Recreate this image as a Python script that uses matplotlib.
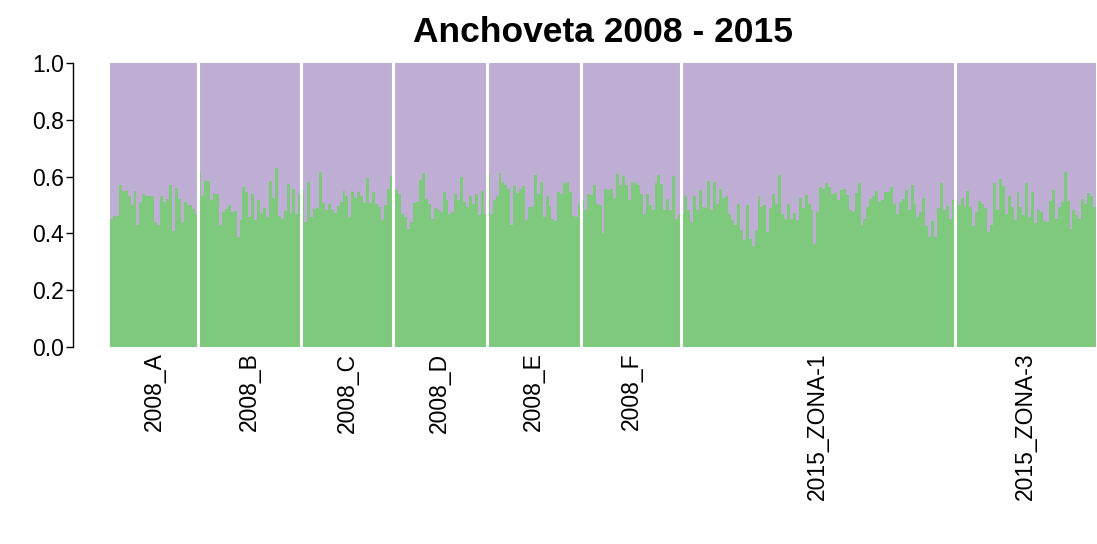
import numpy as np
import matplotlib
matplotlib.use("Agg")
import matplotlib.pyplot as plt

plt.rcParams['font.family'] = ['Liberation Sans', 'DejaVu Sans']

# membership in cluster 1 (green) per individual; cluster 2 (purple) is the rest
pop_labels = ['2008_A', '2008_B', '2008_C', '2008_D', '2008_E', '2008_F',
              '2015_ZONA-1', '2015_ZONA-3']

q_2008_A = [0.45, 0.46, 0.46, 0.57, 0.55, 0.55, 0.53, 0.50, 0.55, 0.43,
            0.51, 0.54, 0.53, 0.53, 0.53, 0.44, 0.43, 0.53, 0.51, 0.52,
            0.57, 0.41, 0.56, 0.52, 0.44, 0.51, 0.50, 0.50, 0.485, 0.47]
q_2008_B = [0.615, 0.53, 0.585, 0.585, 0.517, 0.537, 0.54, 0.43, 0.476, 0.485,
            0.50, 0.476, 0.48, 0.388, 0.447, 0.562, 0.546, 0.458, 0.54, 0.447,
            0.517, 0.473, 0.49, 0.458, 0.584, 0.523, 0.632, 0.46, 0.452, 0.48,
            0.575, 0.473, 0.558, 0.47, 0.54]
q_2008_C = [0.552, 0.44, 0.58, 0.458, 0.485, 0.488, 0.615, 0.508, 0.482, 0.505,
            0.482, 0.473, 0.496, 0.511, 0.549, 0.531, 0.458, 0.546, 0.526, 0.546,
            0.53, 0.508, 0.594, 0.508, 0.546, 0.505, 0.494, 0.447, 0.5, 0.555,
            0.602]
q_2008_D = [0.535, 0.552, 0.54, 0.47, 0.458, 0.417, 0.44, 0.508, 0.511, 0.588,
            0.613, 0.52, 0.505, 0.45, 0.488, 0.484, 0.476, 0.546, 0.517, 0.468,
            0.476, 0.54, 0.517, 0.597, 0.511, 0.494, 0.53, 0.505, 0.54, 0.464,
            0.55, 0.47]
q_2008_E = [0.611, 0.47, 0.517, 0.53, 0.611, 0.582, 0.57, 0.558, 0.43, 0.566,
            0.543, 0.558, 0.566, 0.447, 0.494, 0.494, 0.605, 0.54, 0.582, 0.458,
            0.531, 0.496, 0.452, 0.444, 0.546, 0.54, 0.576, 0.582, 0.546, 0.461,
            0.458, 0.505]
q_2008_F = [0.517, 0.482, 0.54, 0.535, 0.57, 0.505, 0.5, 0.402, 0.558, 0.552,
            0.555, 0.523, 0.609, 0.57, 0.602, 0.57, 0.517, 0.582, 0.578, 0.57,
            0.54, 0.468, 0.54, 0.5, 0.482, 0.576, 0.605, 0.573, 0.482, 0.52,
            0.482, 0.602, 0.452, 0.468]
q_2015_Z1 = [0.468, 0.53,
             0.482, 0.44, 0.53, 0.482, 0.552, 0.494, 0.488, 0.585, 0.482, 0.582,
             0.505, 0.555, 0.523, 0.53, 0.47, 0.447, 0.43, 0.505, 0.412, 0.376,
             0.5, 0.382, 0.355, 0.412, 0.53, 0.494, 0.5,
             0.405, 0.488, 0.54, 0.505, 0.605, 0.47, 0.452, 0.505, 0.449, 0.473,
             0.447, 0.526, 0.488, 0.535, 0.505, 0.482, 0.364, 0.476, 0.564, 0.558,
             0.578, 0.564, 0.54, 0.543, 0.517, 0.552, 0.555, 0.535, 0.484,
             0.476, 0.543, 0.576, 0.43, 0.452, 0.494, 0.52, 0.531, 0.55, 0.511,
             0.517, 0.546, 0.546, 0.564, 0.505, 0.47, 0.511, 0.52, 0.552, 0.484,
             0.57, 0.505, 0.458, 0.476, 0.523, 0.426, 0.388, 0.443, 0.388, 0.488,
             0.576, 0.484, 0.496, 0.449, 0.517]
q_2015_Z3 = [0.52, 0.5, 0.526, 0.496, 0.55, 0.494, 0.426, 0.476, 0.515, 0.505,
             0.49, 0.405, 0.43, 0.578, 0.484, 0.593, 0.566, 0.47, 0.53, 0.494,
             0.447, 0.546, 0.494, 0.464,
             0.578, 0.456, 0.546, 0.435, 0.484, 0.476, 0.444, 0.44, 0.515, 0.552,
             0.452, 0.494, 0.511, 0.617, 0.515, 0.417, 0.482, 0.464, 0.449, 0.52,
             0.505, 0.543, 0.531, 0.494]

groups = [q_2008_A, q_2008_B, q_2008_C, q_2008_D, q_2008_E, q_2008_F,
          q_2015_Z1, q_2015_Z3]

green = '#7FC97F'
purple = '#BEAED4'

q1 = np.concatenate(groups)
q2 = 1 - q1
x = np.arange(len(q1))
sizes = np.array([len(g) for g in groups])
bounds = np.cumsum(sizes)
centers = bounds - sizes / 2

fig = plt.figure(figsize=(10.97, 5.44), dpi=100)
ax = fig.add_axes([110 / 1097, 197 / 544, 986 / 1097, 284 / 544])

ax.bar(x, q1, width=1, align='edge', color=green, linewidth=0, antialiased=False)
ax.bar(x, q2, width=1, bottom=q1, align='edge', color=purple, linewidth=0,
       antialiased=False)

# white separators between populations
for b in bounds[:-1]:
    ax.axvline(b, color='white', lw=2.2)

ax.set_xlim(0, len(q1))
ax.set_ylim(0, 1)

for s in ['top', 'right', 'bottom']:
    ax.spines[s].set_visible(False)
ax.spines['left'].set_position(('outward', 26.5))
ax.spines['left'].set_bounds(0, 1)
ax.spines['left'].set_linewidth(1.0)

ax.set_yticks([0, 0.2, 0.4, 0.6, 0.8, 1.0])
ax.set_yticklabels(['0.0', '0.2', '0.4', '0.6', '0.8', '1.0'])
ax.tick_params(axis='y', length=5, width=1.0, labelsize=16.5, pad=1.5)

ax.set_xticks(centers)
ax.set_xticklabels(pop_labels, rotation=90, fontsize=16.5)
ax.tick_params(axis='x', length=0, pad=4)

ax.set_title('Anchoveta 2008 - 2015', fontsize=25.5, fontweight='bold', pad=15)

fig.savefig('out.png', dpi=100)
